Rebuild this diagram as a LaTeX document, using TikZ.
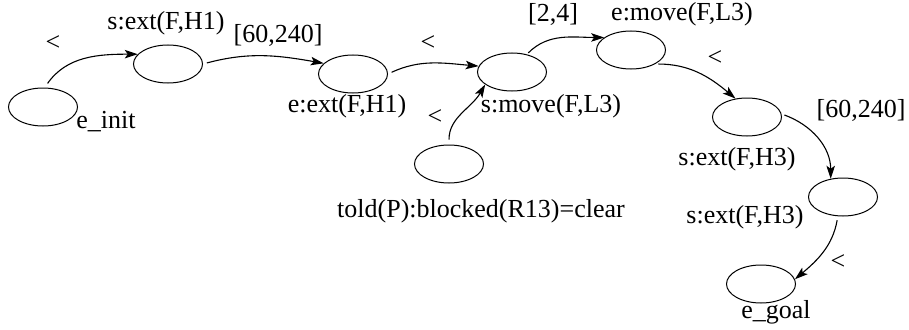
\documentclass[tikz,border=0pt]{standalone}
\usepackage{fontspec}
\setmainfont{Liberation Serif}
\usetikzlibrary{arrows.meta,shapes.geometric}
\begin{document}
\begin{tikzpicture}[x=1pt,y=-1pt,
  event/.style={draw,ellipse,line width=1pt,minimum width=69pt,minimum height=38pt,inner sep=0pt},
  lbl/.style={anchor=base,inner sep=0pt,font=\fontsize{26}{30}\selectfont},
  rel/.style={inner sep=0pt,font=\fontsize{26}{30}\selectfont},
  link/.style={line width=1.1pt,-{Stealth[length=13pt,width=8.5pt,inset=3pt]}}]
\useasboundingbox (0,0) rectangle (909,329);

% events
\node[event] (ei) at (43,107) {};
\node[event] (s1) at (168,64) {};
\node[event] (e1) at (353,74) {};
\node[event] (sm) at (512,72) {};
\node[event] (td) at (449,164) {};
\node[event] (em) at (631,50) {};
\node[event] (s3) at (747,117) {};
\node[event] (s4) at (843,197) {};
\node[event] (eg) at (761,284) {};

% event names
\node[lbl] (tei) at (106,128) {e\_init};
\node[lbl] (ts1) at (166,30) {s:ext(F,H1)};
\node[lbl] (te1) at (347,112) {e:ext(F,H1)};
\node[lbl] (tsm) at (551,112) {s:move(F,L3)};
\node[lbl] (ttd) at (481,217) {told(P):blocked(R13)=clear};
\node[lbl] (tem) at (682,21) {e:move(F,L3)};
\node[lbl] (ts3) at (737,165) {s:ext(F,H3)};
\node[lbl] (ts4) at (745,223) {s:ext(F,H3)};
\node[lbl] (teg) at (776,318) {e\_goal};

% constraint labels
\node[rel] (c1) at (53,43) {<};
\node[lbl] (c2) at (278,43) {[60,240]};
\node[rel] (c3) at (428,43) {<};
\node[rel] (c4) at (435,117) {<};
\node[lbl] (c5) at (553,22) {[2,4]};
\node[rel] (c6) at (715,58) {<};
\node[lbl] (c7) at (861,117) {[60,240]};
\node[rel] (c8) at (838,262) {<};

% ordering links
\draw[link,shorten <=5pt] (ei.85) to[out=55,in=180] (s1.162);
\draw[link,shorten <=4pt] (s1.east) to[out=15,in=170] (e1.160);
\draw[link,shorten <=4pt] (e1.east) to[out=25,in=175] (sm.170);
\draw[link,shorten <=5pt] (td.north) to[out=90,in=240] (sm.205);
\draw[link,shorten <=2pt] (sm.50) to[out=45,in=180] (em.155);
\draw[link,shorten <=3pt] (em.-30) to[out=0,in=140] (s3.122);
\draw[link,shorten <=3pt] (s3.5) to[out=-20,in=90] (s4.124);
\draw[link,shorten <=4pt] (s4.-105) to[out=-100,in=40] (eg.8);
\end{tikzpicture}
\end{document}
